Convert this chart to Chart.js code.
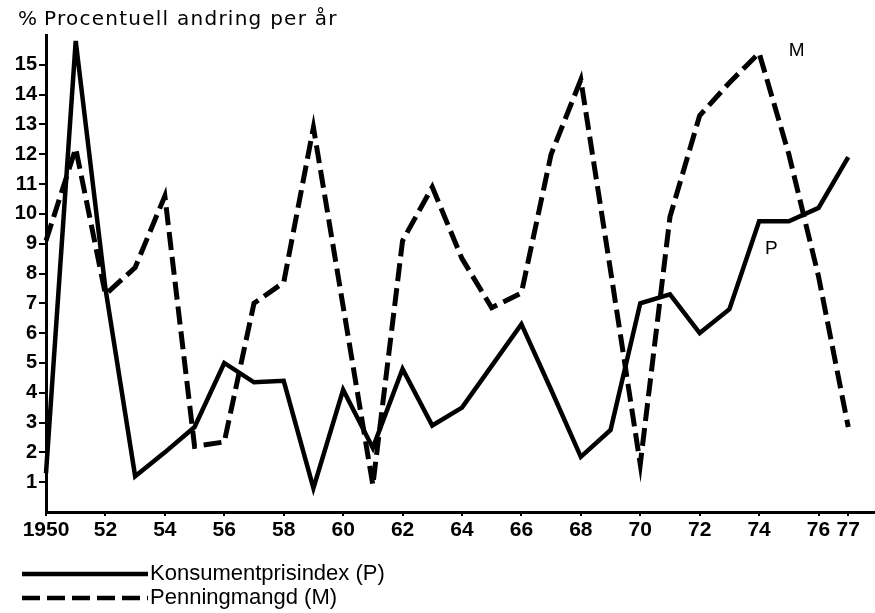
<!DOCTYPE html>
<html>
<head>
<meta charset="utf-8">
<script src="https://cdn.jsdelivr.net/npm/chart.js@4"></script>
<style>
html, body { margin: 0; padding: 0; background: #fff; }
canvas { display: block; }
</style>
</head>
<body>
<canvas id="chart" width="875" height="613"></canvas>
<script>
const years = [1950, 1951, 1952, 1953, 1954, 1955, 1956, 1957, 1958, 1959,
  1960, 1961, 1962, 1963, 1964, 1965, 1966, 1967, 1968, 1969,
  1970, 1971, 1972, 1973, 1974, 1975, 1976, 1977];
// Konsumentprisindex (P), % per år
const konsumentpris = [1.3, 15.8, 7.5, 1.2, 2.0, 2.85, 5.0, 4.35, 4.4, 0.8,
  4.1, 2.15, 4.8, 2.9, 3.5, 4.9, 6.3, 4.1, 1.85, 2.75,
  7.0, 7.3, 6.0, 6.8, 9.75, 9.75, 10.2, 11.9];
// Penningmangd (M), % per år
const penningmangd = [9.1, 12.2, 7.3, 8.2, 10.6, 2.2, 2.35, 7.0, 7.7, 12.9,
  6.9, 0.9, 9.1, 10.9, 8.5, 6.85, 7.35, 12.0, 14.5, 8.1,
  1.6, 9.9, 13.3, 14.4, 15.4, 12.0, 7.9, 2.85];

const yTicks = [1, 2, 3, 4, 5, 6, 7, 8, 9, 10, 11, 12, 13, 14, 15];
const xTickYears = [1950, 1952, 1954, 1956, 1958, 1960, 1962, 1964, 1966, 1968, 1970, 1972, 1974, 1976, 1977];
const xTickLabels = ['1950', '52', '54', '56', '58', '60', '62', '64', '66', '68', '70', '72', '74', '76', '77'];

const toPoints = vals => vals.map((v, i) => ({ x: years[i], y: v }));

// title, line labels and the two-row legend
const textPlugin = {
  id: 'texts',
  afterDraw(chart) {
    const c = chart.ctx;
    const xs = chart.scales.x, ys = chart.scales.y;
    c.save();
    c.fillStyle = '#000';
    c.textBaseline = 'alphabetic';
    c.font = '20px "DejaVu Sans"';
    c.letterSpacing = '1.25px';
    c.fillText('%', 18, 25);
    c.fillText('Procentuell andring per år', 44, 25);
    c.letterSpacing = '0px';

    c.font = '19px "Liberation Sans"';
    c.fillText('M', xs.getPixelForValue(1975.0), ys.getPixelForValue(15.3));
    c.fillText('P', xs.getPixelForValue(1974.2), ys.getPixelForValue(8.65));

    c.font = '22px "Liberation Sans"';
    c.textBaseline = 'middle';
    chart.data.datasets.forEach((ds, i) => {
      const y = 574 + i * 24;
      c.beginPath();
      c.lineWidth = 4.5;
      c.strokeStyle = '#000';
      c.setLineDash(ds.borderDash || []);
      c.moveTo(22, y);
      c.lineTo(148, y);
      c.stroke();
      c.fillText(ds.label, 150, y);
    });
    c.restore();
  }
};

new Chart(document.getElementById('chart'), {
  type: 'line',
  data: {
    datasets: [{
      label: 'Konsumentprisindex (P)',
      data: toPoints(konsumentpris),
      borderColor: '#000',
      borderWidth: 4.5
    }, {
      label: 'Penningmangd (M)',
      data: toPoints(penningmangd),
      borderColor: '#000',
      borderWidth: 5,
      borderDash: [18, 7]
    }]
  },
  options: {
    responsive: false,
    animation: false,
    events: [],
    devicePixelRatio: 1,
    layout: { padding: { top: 35, right: 0, left: 0, bottom: 0 } },
    elements: {
      point: { radius: 0 },
      line: { tension: 0, fill: false, borderJoinStyle: 'miter' }
    },
    datasets: { line: { clip: false } },
    plugins: {
      legend: { display: false },
      tooltip: { enabled: false }
    },
    scales: {
      x: {
        type: 'linear',
        min: 1950,
        max: 1977.9,
        afterBuildTicks: s => { s.ticks = xTickYears.map(v => ({ value: v })); },
        afterFit: s => { s.height = 101; },
        ticks: {
          autoSkip: false,
          maxRotation: 0,
          padding: 2,
          color: '#000',
          font: { family: 'Liberation Sans', size: 21, weight: 'bold' },
          callback: v => xTickLabels[xTickYears.indexOf(v)]
        },
        grid: { drawOnChartArea: false, tickLength: 4, color: '#000', lineWidth: 2 },
        border: { color: '#000', width: 3 }
      },
      y: {
        min: 0,
        max: 16,
        afterBuildTicks: s => { s.ticks = yTicks.map(v => ({ value: v })); },
        afterFit: s => { s.width = 46; },
        ticks: {
          padding: 2,
          color: '#000',
          font: { family: 'Liberation Sans', size: 20, weight: 'bold' }
        },
        grid: { drawOnChartArea: false, tickLength: 7, color: '#000', lineWidth: 2 },
        border: { color: '#000', width: 3 }
      }
    }
  },
  plugins: [textPlugin]
});
</script>
</body>
</html>
